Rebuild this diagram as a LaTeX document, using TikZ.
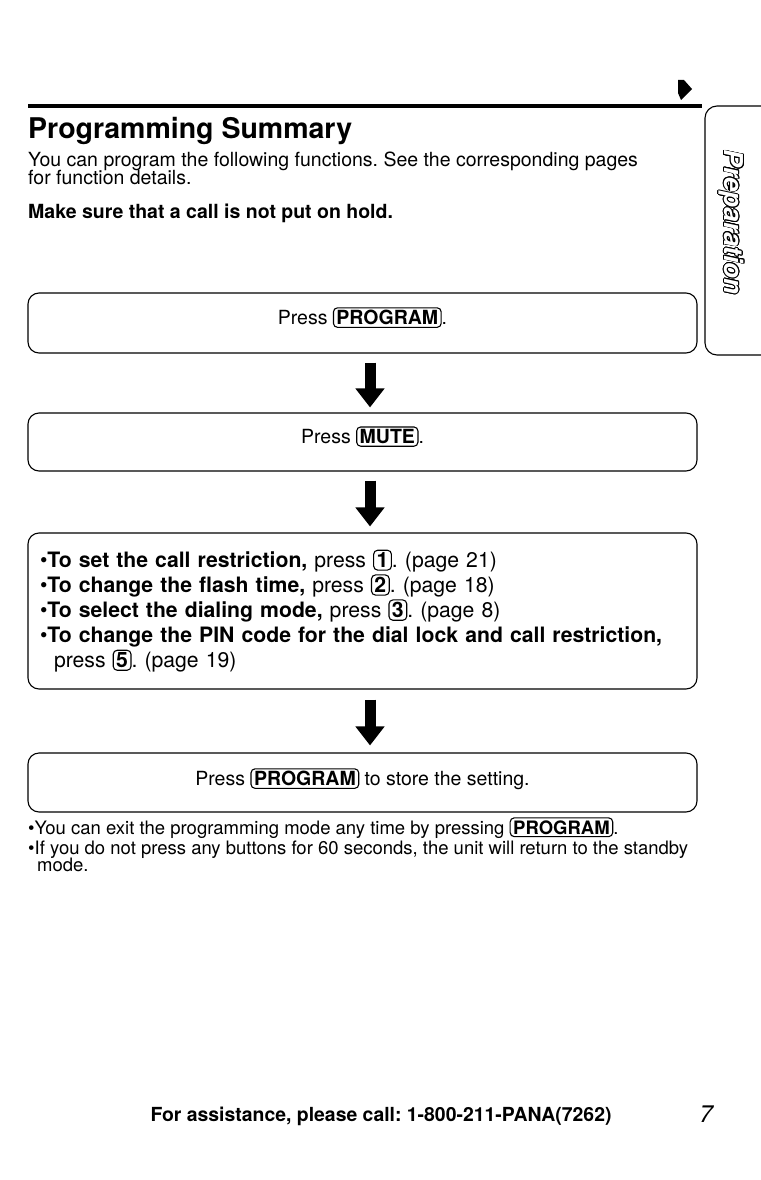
\documentclass[tikz,border=0pt]{standalone}
\usepackage{fontspec}
\setmainfont{TeX Gyre Heros}
\usepackage{contour}
\contourlength{0.7pt}
\usetikzlibrary{arrows.meta}
\frenchspacing
\tikzset{
  keystyle/.style={draw, rounded corners=4pt, line width=1.1pt, inner xsep=3pt, inner ysep=2.4pt, font=\bfseries,
    minimum width=0pt, minimum height=0pt, text width={}, text depth={}, align=center, anchor=center, rotate=0},
  flowbox/.style={draw, rounded corners=11pt, line width=1.1pt, minimum width=669pt, minimum height=#1, inner sep=0pt},
  bigarrow/.style={line width=11pt, -{Triangle[width=28pt,length=19pt]}},
  txt/.style={inner sep=0pt, anchor=base west},
}
\newcommand\keycap[1]{\tikz[baseline=(kc.base),x=1cm,y=1cm]\node[keystyle](kc){#1};}
\begin{document}
\begin{tikzpicture}[x=1pt,y=-1pt]
\useasboundingbox (0,0) rectangle (760,1180);
% header
\fill (678,80) -- (684,80) -- (692,89) -- (681,100) -- (678,93) -- cycle;
\draw[line width=4pt] (28,106) -- (702,106);
\node[txt, font=\fontsize{28.5}{30}\selectfont\bfseries] (title) at (28,139) {Programming Summary};
\node[txt, font=\fontsize{19.5}{20}\selectfont] (intro) at (28,166) {You can program the following functions. See the corresponding pages};
\node[txt, font=\fontsize{19.5}{20}\selectfont] (intro2) at (28,184) {for function details.};
\node[txt, font=\fontsize{19.5}{20}\selectfont\bfseries] (hold) at (28,218) {Make sure that a call is not put on hold.};
% side tab
\draw[line width=1.1pt, rounded corners=12pt] (765,106) -- (705,106) -- (705,355) -- (765,355);
\node[rotate=-90, font=\fontsize{26}{28}\selectfont\bfseries\itshape] (tab) at (731,222) {\contour{black}{\textcolor{white}{Preparation}}};
% flow
\coordinate (ax) at (370,0);
\node[flowbox=60pt, text depth=14pt, font=\fontsize{19.5}{21}\selectfont] (b1) at (362.5,323) {Press \keycap{PROGRAM}.};
\node[flowbox=58pt, text depth=14pt, font=\fontsize{19.5}{21}\selectfont] (b2) at (362.5,442) {Press \keycap{MUTE}.};
\node[flowbox=156pt, text width=645pt, align=left, font=\fontsize{21.2}{25}\selectfont] (b3) at (362.5,611) {%
\textbullet\textbf{To set the call restriction,} press \keycap{1}. (page 21)\\
\textbullet\textbf{To change the flash time,} press \keycap{2}. (page 18)\\
\textbullet\textbf{To select the dialing mode,} press \keycap{3}. (page 8)\\
\textbullet\textbf{To change the PIN code for the dial lock and call restriction,}\\
\hspace*{14pt}press \keycap{5}. (page 19)};
\node[flowbox=59pt, text depth=11pt, font=\fontsize{19.5}{21}\selectfont] (b4) at (362.5,782.5) {Press \keycap{PROGRAM} to store the setting.};
\draw[bigarrow] ([yshift=-9pt]b1.south -| ax) -- ([yshift=5pt]b2.north -| ax);
\draw[bigarrow] ([yshift=-9pt]b2.south -| ax) -- ([yshift=6pt]b3.north -| ax);
\draw[bigarrow] ([yshift=-10pt]b3.south -| ax) -- ([yshift=7pt]b4.north -| ax);
% notes
\node[txt, font=\fontsize{18.5}{20}\selectfont] (n1) at (28,834) {\textbullet You can exit the programming mode any time by pressing \keycap{PROGRAM}.};
\node[txt, font=\fontsize{18.5}{20}\selectfont] (n2) at (28,854) {\textbullet If you do not press any buttons for 60 seconds, the unit will return to the standby};
\node[txt, font=\fontsize{18.5}{20}\selectfont] (n3) at (37,871) {mode.};
% footer
\node[inner sep=0pt, anchor=base, font=\fontsize{19.4}{21}\selectfont\bfseries] (foot) at (381,1121) {For assistance, please call: 1-800-211-PANA(7262)};
\node[inner sep=0pt, anchor=base, font=\fontsize{24}{26}\selectfont\itshape] (pg) at (706,1122) {7};
\end{tikzpicture}
\end{document}
